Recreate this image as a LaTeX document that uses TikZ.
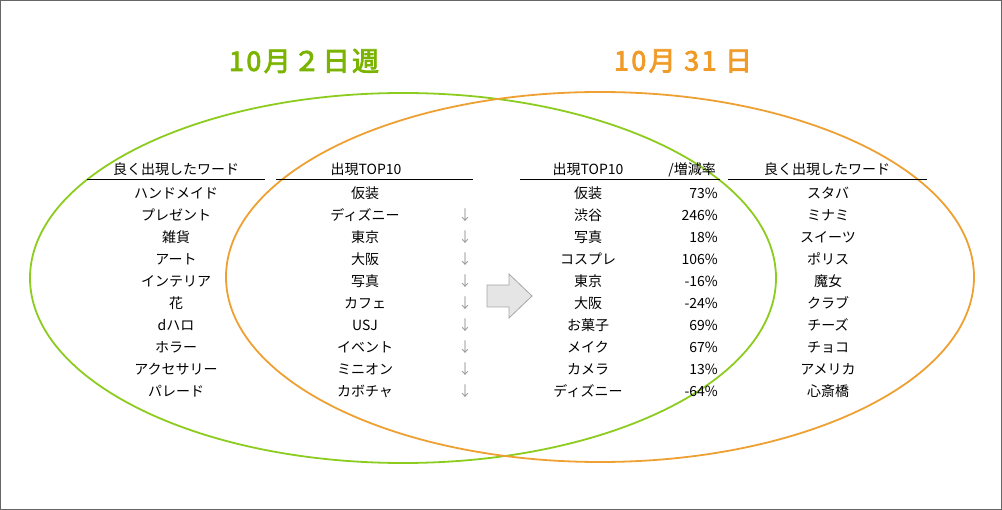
\documentclass[tikz,border=0pt]{standalone}
\usepackage{fontspec}
\setmainfont{Noto Sans CJK JP}
\newfontfamily\titlefont[FakeBold=3,LetterSpace=9]{Noto Sans CJK JP}
\definecolor{tgreen}{RGB}{122,180,0}
\definecolor{egreen}{RGB}{140,204,30}
\definecolor{torange}{RGB}{240,154,40}
\definecolor{eorange}{RGB}{238,160,50}
\begin{document}
\begin{tikzpicture}[x=1pt,y=-1pt,
  item/.style={font=\fontsize{14}{16}\selectfont, inner sep=0pt, text height=11pt, text depth=2pt},
  pct/.style={item, anchor=east},
  dn/.style={item, text=black!40},
  hline/.style={draw=black, line width=0.8pt},
  title/.style={font=\fontsize{27}{30}\titlefont, inner sep=0pt}]
\useasboundingbox (0,0) rectangle (1002,510);
\draw[black!60, line width=0.8pt] (0.5,0.5) rectangle (1001.5,509.5);
% ellipses
\draw[egreen, line width=1.8pt] (403,278) ellipse [x radius=373pt, y radius=185pt];
\draw[eorange, line width=1.8pt] (600,277) ellipse [x radius=374pt, y radius=185pt];
% titles
\node[title, text=tgreen] (t1) at (304,61) {10月２日週};
\node[title, text=torange] (t2) at (683,61) {10月 31 日};
% headers
\node[item] (h1) at (176,170.5) {良く出現したワード};
\draw[hline] (87,179.5) -- (265,179.5);
\node[item] (h2) at (366,170.5) {出現TOP10};
\draw[hline] (276,179.5) -- (473,179.5);
\node[item] (h3) at (588,170.5) {出現TOP10};
\node[item] (h3b) at (692,170.5) {/増減率};
\draw[hline] (520,179.5) -- (720,179.5);
\node[item] (h4) at (827,170.5) {良く出現したワード};
\draw[hline] (728,179.5) -- (927,179.5);
% column 1
\foreach \t [count=\i] in {ハンドメイド,プレゼント,雑貨,アート,インテリア,花,dハロ,ホラー,アクセサリー,パレード}
  \node[item] (a\i) at (176,{194.5+21.9*(\i-1)}) {\t};
% column 2
\foreach \t [count=\i] in {仮装,ディズニー,東京,大阪,写真,カフェ,USJ,イベント,ミニオン,カボチャ}
  \node[item] (b\i) at (365,{194.5+21.9*(\i-1)}) {\t};
\foreach \i in {2,...,10}
  \node[dn] (d\i) at (465,{194.5+21.9*(\i-1)}) {↓};
% column 3
\foreach \t [count=\i] in {仮装,渋谷,写真,コスプレ,東京,大阪,お菓子,メイク,カメラ,ディズニー}
  \node[item] (c\i) at (588,{194.5+21.9*(\i-1)}) {\t};
\foreach \t [count=\i] in {73\%,246\%,18\%,106\%,-16\%,-24\%,69\%,67\%,13\%,-64\%}
  \node[pct] (p\i) at (718,{194.5+21.9*(\i-1)}) {\t};
% column 4
\foreach \t [count=\i] in {スタバ,ミナミ,スイーツ,ポリス,魔女,クラブ,チーズ,チョコ,アメリカ,心斎橋}
  \node[item] (e\i) at (828,{194.5+21.9*(\i-1)}) {\t};
% big arrow
\draw[fill=black!10, draw=black!35, line width=0.8pt]
  (487,285) -- (509,285) -- (509,274) -- (532,296) -- (509,318) -- (509,307) -- (487,307) -- cycle;
\end{tikzpicture}
\end{document}
